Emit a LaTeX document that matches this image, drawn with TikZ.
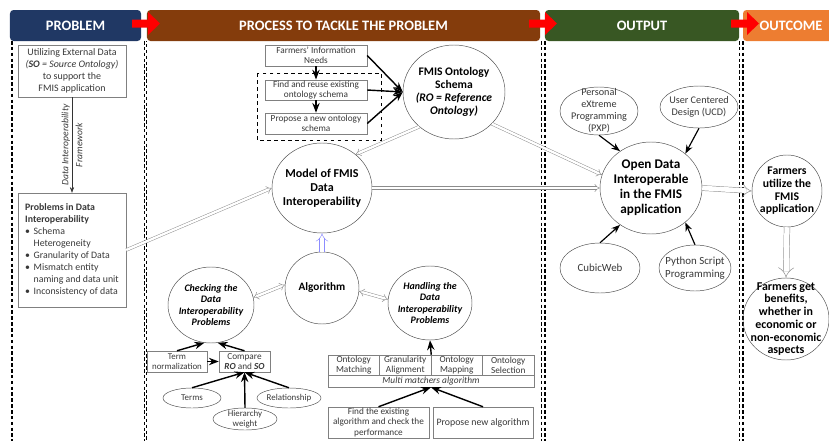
\documentclass[tikz,border=0pt]{standalone}
\usepackage{fontspec}
\setmainfont{Carlito}
\usetikzlibrary{shapes.geometric,arrows.meta}
\definecolor{probblue}{HTML}{203864}
\definecolor{procbrown}{HTML}{843C0C}
\definecolor{outgreen}{HTML}{385723}
\definecolor{outcorange}{HTML}{ED7D31}
\begin{document}
\begin{tikzpicture}[x=0.03cm,y=-0.03cm,>=Stealth]
\tikzstyle{header} = [rectangle, rounded corners=3pt, minimum height=0.93cm, text=white, font=\fontsize{12.3}{14}\selectfont\bfseries]
\tikzstyle{box} = [rectangle, draw=black!50, text=black!78, align=center, inner sep=1pt, font=\fontsize{7.9}{8.6}\selectfont]
\tikzstyle{cell} = [box, inner sep=0pt, minimum width=1.545cm, minimum height=0.6cm]
\tikzstyle{bigcirc} = [ellipse, draw=black!70, inner sep=-10pt, align=center]
\tikzstyle{oval} = [ellipse, draw=black!70, inner sep=-6pt, align=center, text=black!78, font=\fontsize{8.7}{10.3}\selectfont]
\tikzstyle{hollow} = [draw=black!45, double, double distance=2pt, -{Implies}]
\tikzstyle{thickarr} = [->, line width=1.2pt]
\tikzstyle{divider} = [line width=0.9pt, dash pattern=on 3pt off 2pt]
\clip (0,0) rectangle (829,441);
% column headers
\node (hprob)[header, fill=probblue, minimum width=3.93cm] at (75.5,25.5) {PROBLEM};
\node (hproc)[header, fill=procbrown, minimum width=11.79cm] at (343.5,25.5) {PROCESS TO TACKLE THE PROBLEM};
\node (hout)[header, fill=outgreen, minimum width=5.82cm] at (642,25.5) {OUTPUT};
\node (hoc)[header, fill=outcorange, minimum width=2.88cm] at (791,25.5) {OUTCOME};
\foreach \ax in {132,529,731}
  \fill[red] (\ax,19.5) -- (\ax+16,19.5) -- (\ax+16,12) -- (\ax+28,23.5) -- (\ax+16,35) -- (\ax+16,27.5) -- (\ax,27.5) -- cycle;
\draw[divider] (12,41) -- (12,441);
\draw[divider] (144.5,41) -- (144.5,441);
\draw[divider, dash phase=2.5pt] (146.5,41) -- (146.5,441);
\foreach \dx in {541.5,545,739.5,743}
  \draw[divider] (\dx,41) -- (\dx,441);
% problem
\node (util)[box, minimum width=3.24cm, minimum height=1.56cm, font=\fontsize{8.5}{10.2}\selectfont] at (72,71) {Utilizing External Data\\\textit{(\textbf{SO} = Source Ontology)}\\to support the\\FMIS application};
\node (probs)[box, minimum width=3.24cm, minimum height=3.42cm, font=\fontsize{8.4}{10.2}\selectfont] at (72,250) {\begin{tabular}{@{}l@{\hspace{3pt}}l@{}}
\multicolumn{2}{@{}l@{}}{\textbf{Problems in Data}}\\
\multicolumn{2}{@{}l@{}}{\textbf{Interoperability}}\\
\textbullet & Schema\\ & Heterogeneity\\
\textbullet & Granularity of Data\\
\textbullet & Mismatch entity\\ & naming and data unit\\
\textbullet & Inconsistency of data
\end{tabular}};
\draw [->, black!80] (util) -- (probs);
\node (dif)[rotate=90, text=black!78, align=center, font=\fontsize{8.2}{9}\selectfont\itshape] at (72,145) {Data Interoperability\\[3pt]Framework};
% process
\node (need)[box, minimum width=3.06cm, minimum height=0.63cm] at (316,55.5) {Farmers' Information\\Needs};
\node (find)[box, minimum width=3.06cm, minimum height=0.6cm] at (316,90) {Find and reuse existing\\ontology schema};
\node (prop)[box, minimum width=3.06cm, minimum height=0.63cm] at (316,123.5) {Propose a new ontology\\schema};
\draw[dashed, thick] (257,73) rectangle (381,140);
\node (fmis)[bigcirc, minimum width=3.06cm, minimum height=2.82cm, font=\fontsize{9.9}{10.9}\selectfont\bfseries] at (454,92) {FMIS Ontology\\Schema\\\textit{(RO = Reference}\\\textit{Ontology)}};
\draw [thickarr] (need) -- (find);
\draw [thickarr] (find) -- (prop);
\draw [thickarr] (need.east) -- (fmis.west);
\draw [thickarr] (find.east) -- (fmis.west);
\draw [thickarr] (prop.east) -- (fmis.west);
\node (model)[bigcirc, minimum width=3cm, minimum height=2.7cm, font=\fontsize{10.3}{12}\selectfont\bfseries] at (322,188) {Model of FMIS\\Data\\Interoperability};
\node (algo)[bigcirc, minimum width=2.22cm, minimum height=2.16cm, font=\fontsize{9.6}{12}\selectfont\bfseries] at (322,288) {Algorithm};
\node (check)[bigcirc, minimum width=2.58cm, minimum height=2.28cm, font=\fontsize{8.5}{9.8}\selectfont\bfseries\itshape] at (211,305) {Checking the\\Data\\Interoperability\\Problems};
\node (handle)[bigcirc, minimum width=2.52cm, minimum height=2.22cm, font=\fontsize{8.5}{9.8}\selectfont\bfseries\itshape] at (430,303) {Handling the\\Data\\Interoperability\\Problems};
\draw [hollow] (probs.east) -- (model.west);
\draw [hollow] (fmis.225) -- (model.45);
\draw [hollow, draw=blue!45, double distance=3.5pt] (algo.north) -- (model.south);
\draw [hollow, {Implies}-{Implies}] (check.10) -- (algo.175);
\draw [hollow, {Implies}-{Implies}] (algo.-5) -- (handle.175);
\node (term)[box, minimum width=1.8cm, minimum height=0.63cm, font=\fontsize{7.6}{8.6}\selectfont] at (177,361.5) {Term\\normalization};
\node (comp)[box, minimum width=1.53cm, minimum height=0.63cm] at (244.5,361.5) {Compare\\\textbf{\textit{RO}} and \textbf{\textit{SO}}};
\node (terms)[oval, minimum width=1.74cm, minimum height=0.6cm, font=\fontsize{7.6}{8.4}\selectfont] at (192,398) {Terms};
\node (rel)[oval, minimum width=1.92cm, minimum height=0.6cm, font=\fontsize{7.6}{8.4}\selectfont] at (289,398) {Relationship};
\node (hier)[oval, minimum width=1.92cm, minimum height=0.66cm, font=\fontsize{7.6}{8.4}\selectfont] at (245,419) {Hierarchy\\weight};
\draw [thickarr] (term) -- (comp);
\draw [thickarr] (term.north) -- (check.-100);
\draw [thickarr] (comp.north) -- (check.-80);
\draw [thickarr] (terms.north) -- (comp.south);
\draw [thickarr] (hier.north) -- (comp.south);
\draw [thickarr] (rel.north) -- (comp.south);
\node (om)[cell] at (353.75,365) {Ontology\\Matching};
\node (ga)[cell] at (405.25,365) {Granularity\\Alignment};
\node (omap)[cell] at (456.75,365) {Ontology\\Mapping};
\node (os)[cell] at (508.25,365) {Ontology\\Selection};
\node (mma)[box, inner sep=0pt, minimum width=6.18cm, minimum height=0.36cm, font=\fontsize{8}{8.6}\selectfont\itshape] at (431,381) {Multi matchers algorithm};
\node (fex)[box, minimum width=3.03cm, minimum height=0.93cm] at (378.5,422.5) {Find the existing\\algorithm and check the\\performance};
\node (pna)[box, minimum width=3cm, minimum height=0.93cm, font=\fontsize{8.4}{9}\selectfont] at (483,422.5) {Propose new algorithm};
\draw [thickarr] (ga.north east) -- (handle.south);
\draw [thickarr] (fex.north) -- (mma.south);
\draw [thickarr] (pna.north) -- (mma.south);
% output
\node (open)[bigcirc, minimum width=3.06cm, minimum height=2.76cm, font=\fontsize{11.3}{12.8}\selectfont\bfseries] at (651,188) {Open Data\\Interoperable\\in the FMIS\\application};
\node (pxp)[oval, minimum width=2.34cm, minimum height=1.44cm] at (599,111) {Personal\\eXtreme\\Programming\\(PXP)};
\node (ucd)[oval, minimum width=2.34cm, minimum height=1.26cm] at (699,107) {User Centered\\Design (UCD)};
\node (cw)[oval, minimum width=2.4cm, minimum height=1.5cm, font=\fontsize{9.3}{10.5}\selectfont] at (600,268) {CubicWeb};
\node (py)[oval, minimum width=2.16cm, minimum height=1.38cm, font=\fontsize{9.3}{10.5}\selectfont] at (695,268) {Python Script\\Programming};
\draw [thickarr, line width=1pt] (pxp.south) -- (open.130);
\draw [thickarr, line width=1pt] (ucd.south) -- (open.45);
\draw [thickarr, line width=1pt] (cw.north) -- (open.-130);
\draw [thickarr, line width=1pt] (py.north) -- (open.-45);
\draw [hollow] (fmis.-40) -- (open.165);
\draw [hollow] (model.east) -- (open.west);
% outcome
\node (futil)[bigcirc, minimum width=2.1cm, minimum height=2.16cm, font=\fontsize{10}{10.8}\selectfont\bfseries] at (787,191) {Farmers\\utilize the\\FMIS\\application};
\node (fben)[bigcirc, minimum width=2.58cm, minimum height=2.46cm, font=\fontsize{10.2}{10.9}\selectfont\bfseries] at (786,319) {Farmers get\\benefits,\\whether in\\economic or\\non-economic\\aspects};
\draw [hollow, double distance=4pt] (open.east) -- (futil.west);
\draw [hollow, double distance=4.5pt] (futil.south) -- (fben.north);
\end{tikzpicture}
\end{document}
